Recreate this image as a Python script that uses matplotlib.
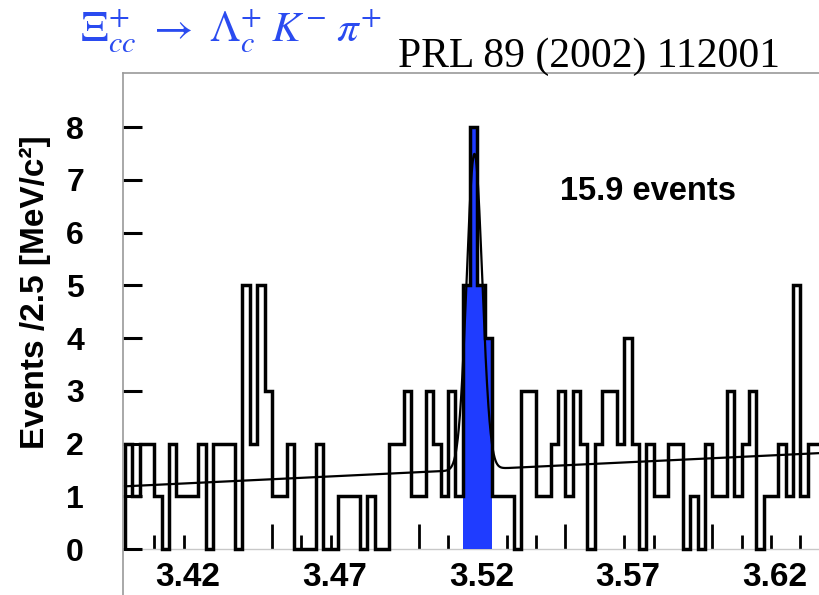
import numpy as np
import matplotlib
matplotlib.use("Agg")
import matplotlib.pyplot as plt
from matplotlib.transforms import ScaledTranslation

# Lambda_c+ K- pi+ invariant mass spectrum, 2.5 MeV bins starting at 3.40 GeV
mass_start = 3.40
bin_width = 0.0025
counts = [2, 1, 2, 2, 1, 0, 2, 1, 1, 1, 2, 0, 2, 2, 2, 0,
          5, 2, 5, 3,
          1, 1, 2, 0, 0, 0, 2, 0, 0, 1, 1, 1,
          0, 1, 0, 0, 2, 2, 3, 1, 1, 3, 2, 1, 3, 1,
          5, 8, 5, 4,
          1, 1, 1, 0, 3, 3, 1, 1,
          2, 3, 1, 3, 2, 0,
          2, 3, 3, 2, 4, 2, 0,
          2, 1, 1, 2, 2, 0, 1, 0,
          2, 1, 1, 3, 1, 2, 3, 0,
          1, 1, 2, 1, 5, 1, 2, 2]

# signal window shaded in blue
signal_window = (3.515, 3.525)

# fit: Gaussian signal on a linear background
fit_events = 15.9
fit_mean = 3.519
fit_sigma = 0.00265
bg_at_start = 1.19
bg_slope = 2.66          # events/bin per GeV

x_tick_labels = ["3.42", "3.47", "3.52", "3.57", "3.62"]
y_ticks = list(range(9))

title_decay = r"$\Xi_{cc}^{+}\ \rightarrow\ \Lambda_{c}^{+}\;K^{-}\;\pi^{+}$"
title_ref = "PRL 89 (2002) 112001"
signal_label = f"{fit_events} events"
y_label = "Events /2.5 [MeV/c²]"

plt.rcParams["mathtext.fontset"] = "stix"
plt.rcParams["font.family"] = ["Liberation Sans", "DejaVu Sans"]

fig = plt.figure(figsize=(8.2, 5.95), dpi=100)
ylo, yhi = -0.87, 9.02
xlo, xhi = 3.3993, 3.6367
ax = fig.add_axes([0.15, 0.0, 0.85, 0.877])
ax.set_xlim(xlo, xhi)
ax.set_ylim(ylo, yhi)

edges = mass_start + bin_width * np.arange(len(counts) + 1)
counts_arr = np.array(counts, dtype=float)

# shaded signal bins
eps = 1e-6
sel = (edges[:-1] >= signal_window[0] - eps) & (edges[1:] <= signal_window[1] + eps)
idx = np.where(sel)[0]
ax.stairs(counts_arr[idx], edges[idx[0]:idx[-1] + 2], fill=True,
          color="#1f3cff", lw=0, zorder=1)

# histogram outline
ax.stairs(counts_arr, edges, baseline=0, fill=False, color="black",
          lw=2.5, zorder=2)

# fit curve
m = np.linspace(mass_start, xhi, 3000)
amp = fit_events * bin_width / (np.sqrt(2 * np.pi) * fit_sigma)
fit = bg_at_start + bg_slope * (m - mass_start) + \
    amp * np.exp(-0.5 * ((m - fit_mean) / fit_sigma) ** 2)
ax.plot(m, fit, color="black", lw=1.6, zorder=3)

# frame
for side in ("right", "bottom"):
    ax.spines[side].set_visible(False)
for side in ("left", "top"):
    ax.spines[side].set_color("#9a9a9a")
    ax.spines[side].set_linewidth(1.2)

ax.set_xticks([])
ax.set_yticks(y_ticks)
ax.set_yticklabels([str(v) for v in y_ticks], fontsize=23, fontweight="bold")
ax.tick_params(axis="y", direction="in", length=14, width=2.2, color="black",
               pad=28)
ax.set_ylabel(y_label, fontsize=24, fontweight="bold")
ax.yaxis.set_label_coords(-0.103, 0.58)

# x axis at zero counts: ticks every 10 MeV, longer every 50 MeV
zero_loc = (0 - ylo) / (yhi - ylo)
xt = ax.secondary_xaxis(zero_loc)
xt.set_xticks(np.arange(3.40, 3.64, 0.05))
xt.set_xticks(np.arange(3.40, 3.64, 0.01), minor=True)
xt.tick_params(which="major", direction="in", length=18, width=2.0,
               color="black", labelbottom=False)
xt.tick_params(which="minor", direction="in", length=10, width=2.0,
               color="black")
xt.spines["bottom"].set_color("#c8c8c8")
xt.spines["bottom"].set_linewidth(1.0)

xl = ax.secondary_xaxis(zero_loc)
xl.set_xticks([float(t) for t in x_tick_labels])
xl.set_xticklabels(x_tick_labels, fontsize=24, fontweight="bold")
xl.tick_params(length=0, pad=9)
xl.spines["bottom"].set_visible(False)
shift = ScaledTranslation(4 / 100, 0, fig.dpi_scale_trans)
for lab in xl.get_xticklabels():
    lab.set_transform(lab.get_transform() + shift)

ax.text(0.627, 0.757, signal_label, transform=ax.transAxes, fontsize=23.5,
        fontweight="bold", ha="left", va="baseline")

fig.text(0.098, 0.93, title_decay, color="#2a4bf0", fontsize=31,
         ha="left", va="baseline")
fig.text(0.485, 0.888, title_ref, family="Liberation Serif", fontsize=30,
         color="black", ha="left", va="baseline")

fig.savefig("out.png", dpi=100)
